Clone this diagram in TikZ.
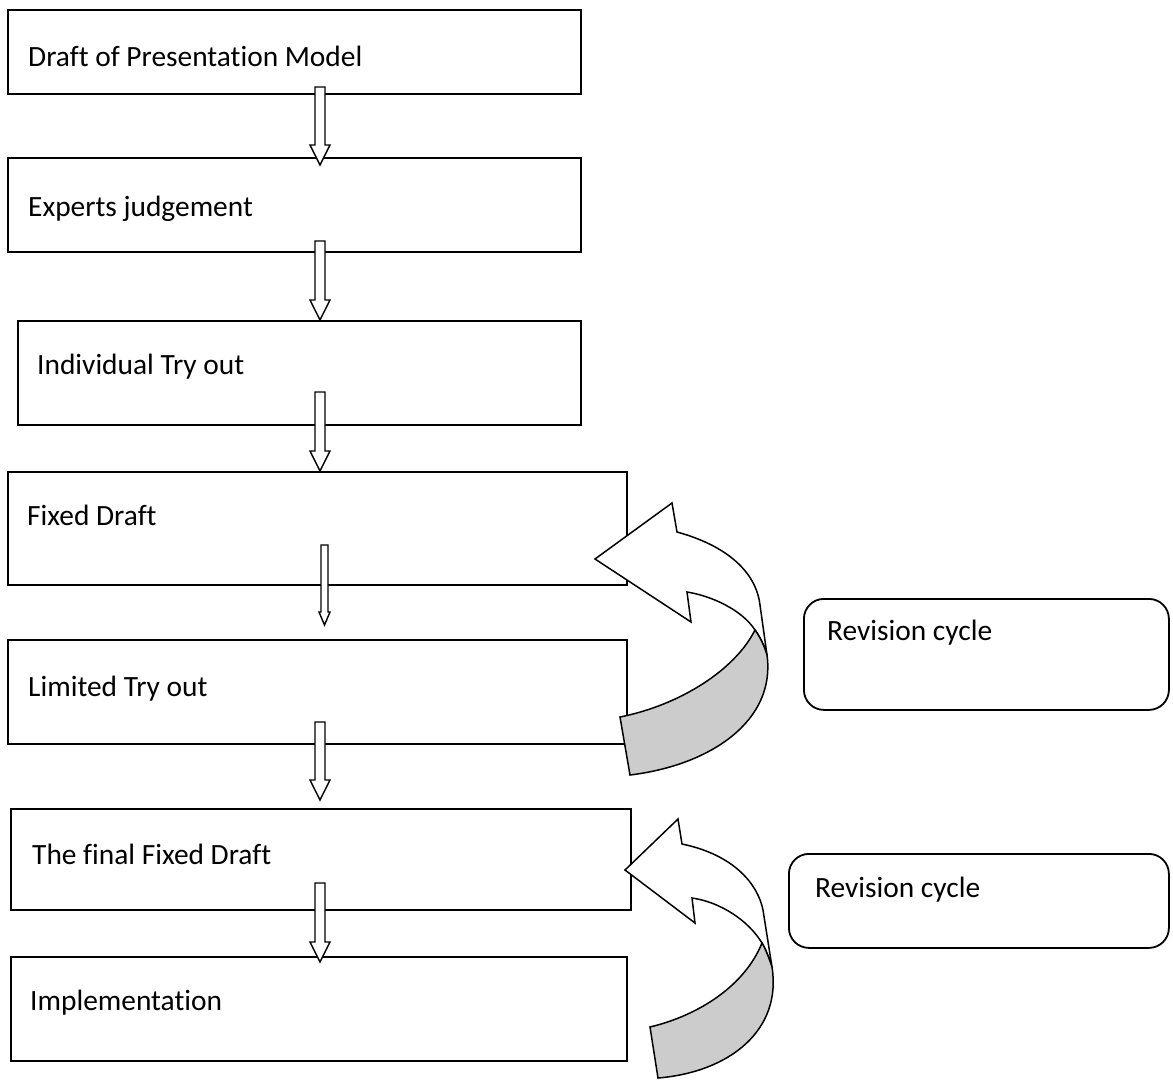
\documentclass[tikz,border=0pt]{standalone}
\usepackage{fontspec}
\setmainfont{Carlito}[Ligatures={NoCommon}]
\begin{document}
\begin{tikzpicture}[x=1pt,y=-1pt,
  box/.style={draw=black,line width=1.8pt,rectangle,inner sep=0pt,anchor=north west},
  rbox/.style={draw=black,line width=1.8pt,rectangle,rounded corners=20pt,inner sep=0pt,anchor=north west},
  txt/.style={inner sep=0pt,anchor=base west,font=\fontsize{29.4}{34}\selectfont},
  blk/.style={draw=black,line width=1.4pt,fill=white,line join=miter},
  curv/.style={draw=black,line width=1.5pt,line join=miter},
  gray band/.style={curv,fill=black!20}]
\useasboundingbox (0,0) rectangle (1173,1082);
% boxes
\node[box,minimum width=573pt,minimum height=84pt] (b1) at (7,9) {};
\node[box,minimum width=573pt,minimum height=94pt] (b2) at (7,157) {};
\node[box,minimum width=563pt,minimum height=104pt] (b3) at (17,320) {};
\node[box,minimum width=619pt,minimum height=113pt] (b4) at (7,471) {};
\node[box,minimum width=619pt,minimum height=104pt] (b5) at (7,639) {};
\node[box,minimum width=620pt,minimum height=101pt] (b6) at (10,808) {};
\node[box,minimum width=616pt,minimum height=104pt] (b7) at (10,956) {};
\node[rbox,minimum width=365pt,minimum height=111pt] (r1) at (803,598) {};
\node[rbox,minimum width=380pt,minimum height=94pt] (r2) at (788,853) {};
% texts
\node[txt] (t1) at (28,66) {Draft of Presentation Model};
\node[txt] (t2) at (28,216) {Experts judgement};
\node[txt] (t3) at (37,374) {Individual Try out};
\node[txt] (t4) at (27,525) {Fixed Draft};
\node[txt] (t5) at (28,696) {Limited Try out};
\node[txt] (t6) at (32,864) {The final Fixed Draft};
\node[txt] (t7) at (30,1010) {Implementation};
\node[txt] (tr1) at (827,640) {Revision cycle};
\node[txt] (tr2) at (815,897) {Revision cycle};
% block arrows: x, top, tip, half shaft, half head, head length
\newcommand{\blockarrow}[6]{%
  \draw[blk] (#1-#4,#2) -- (#1+#4,#2) -- (#1+#4,#3-#6) -- (#1+#5,#3-#6) -- (#1,#3)
    -- (#1-#5,#3-#6) -- (#1-#4,#3-#6) -- cycle;}
\blockarrow{320}{87}{165}{5}{10}{20}
\blockarrow{320}{241}{320}{5}{10}{20}
\blockarrow{320}{392}{471}{5}{10}{20}
\blockarrow{324.5}{545}{625}{3.5}{5.5}{13}
\blockarrow{320}{722}{800}{5}{10}{20}
\blockarrow{320}{883}{962}{5}{10}{20}
% curved arrow 1
\draw[curv,fill=white] (595,559) -- (672,503) -- (677,532)
  .. controls (735,548) and (757,578) .. (760,605) -- (767,655)
  .. controls (764,645) and (760,637) .. (755,630)
  .. controls (742,610) and (712,596) .. (687,592)
  -- (691,622) -- cycle;
\draw[gray band] (755,630) .. controls (760,637) and (764,645) .. (767,655)
  .. controls (776,720) and (712,765) .. (630,775) -- (620,717)
  .. controls (680,705) and (735,670) .. cycle;
% curved arrow 2
\draw[curv,fill=white] (625,870) -- (678,819) -- (682,844)
  .. controls (735,855) and (758,885) .. (763,910) -- (772,967)
  .. controls (769,958) and (766,950) .. (762,943)
  .. controls (748,920) and (720,902) .. (692,898)
  -- (695,923) -- cycle;
\draw[gray band] (762,943) .. controls (766,950) and (769,958) .. (772,967)
  .. controls (782,1030) and (730,1072) .. (658,1078) -- (650,1027)
  .. controls (700,1015) and (745,985) .. cycle;
\end{tikzpicture}
\end{document}
